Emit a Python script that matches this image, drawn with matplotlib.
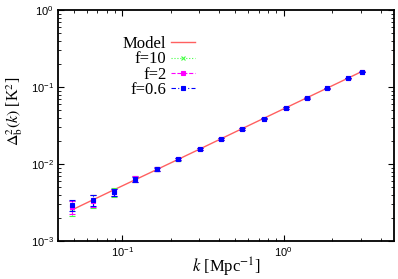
import numpy as np
import matplotlib
matplotlib.use("Agg")
import matplotlib.pyplot as plt
from matplotlib.lines import Line2D

# k [Mpc^-1] of the binned points
k_values = [0.049, 0.066, 0.089, 0.120, 0.164, 0.222, 0.303, 0.408, 0.551,
            0.753, 1.03, 1.39, 1.87, 2.52, 3.07]

# model power spectrum Delta_b^2(k) [K^2]
model_values = [2.55e-3, 3.44e-3, 4.64e-3, 6.24e-3, 8.5e-3, 0.0115, 0.0157, 0.0212,
                0.0287, 0.0392, 0.0536, 0.0723, 0.0972, 0.131, 0.160]

# recovered points for the three f values
f10_values = [2.70e-3, 3.30e-3, 4.30e-3, 6.35e-3, 8.6e-3, 0.0116, 0.0157, 0.0211,
              0.0285, 0.0390, 0.0535, 0.0720, 0.0970, 0.131, 0.157]
f10_errors = [0.6e-3, 0.65e-3, 0.55e-3, 0.55e-3, 0.5e-3, 0.5e-3, 0.55e-3, 0.65e-3,
              0.75e-3, 0.9e-3, 1.1e-3, 1.3e-3, 1.6e-3, 2.0e-3, 2.4e-3]

f2_values = [2.80e-3, 3.35e-3, 4.30e-3, 6.40e-3, 8.6e-3, 0.0116, 0.0157, 0.0211,
             0.0285, 0.0390, 0.0535, 0.0720, 0.0970, 0.131, 0.157]
f2_errors = [0.55e-3, 0.6e-3, 0.5e-3, 0.5e-3, 0.45e-3, 0.45e-3, 0.5e-3, 0.6e-3,
             0.7e-3, 0.8e-3, 1.0e-3, 1.2e-3, 1.5e-3, 1.9e-3, 2.2e-3]

f06_values = [2.94e-3, 3.40e-3, 4.33e-3, 6.38e-3, 8.6e-3, 0.0116, 0.0157, 0.0211,
              0.0285, 0.0390, 0.0535, 0.0720, 0.0970, 0.131, 0.157]
f06_errors = [0.5e-3, 0.55e-3, 0.45e-3, 0.45e-3, 0.4e-3, 0.4e-3, 0.45e-3, 0.55e-3,
              0.65e-3, 0.75e-3, 0.9e-3, 1.1e-3, 1.4e-3, 1.8e-3, 2.1e-3]

plt.rcParams["mathtext.fontset"] = "stix"
plt.rcParams["font.family"] = ["Liberation Serif", "DejaVu Serif"]

fig = plt.figure(figsize=(3.98, 2.79), dpi=100)
ax = fig.add_axes([0.146, 0.136, 0.844, 0.828])

ax.plot(k_values, model_values, color="#ff6060", lw=1.0, zorder=2)

series = [
    (f10_values, f10_errors, "#40ff40", ":", "x", 3.0),
    (f2_values, f2_errors, "#ff00ff", "--", "s", 2.6),
    (f06_values, f06_errors, "#0000ff", (0, (4, 2, 1, 2)), "s", 2.8),
]
handles = [Line2D([], [], color="#ff6060", lw=1.0)]
for vals, errs, col, ls, mk, ms in series:
    eb = ax.errorbar(k_values, vals, yerr=errs, fmt=mk, color=col, ms=ms,
                     mew=0.8, elinewidth=0.8, capsize=2, capthick=0.8, zorder=3)
    eb[2][0].set_linestyle(ls)
    handles.append(Line2D([], [], color=col, ls=ls, lw=0.8, marker=mk, ms=ms, mew=0.8))

ax.set_xscale("log")
ax.set_yscale("log")
ax.set_xlim(0.04, 4.84)
ax.set_ylim(1e-3, 1)

ax.set_xlabel(r"$k$ [Mpc$^{-1}$]", fontsize=12, labelpad=-2)
ax.set_ylabel(r"$\Delta^2_{\rm b}(k)$ [K$^2$]", fontsize=11.5)
ax.yaxis.set_label_coords(-0.098, 0.56)

ax.tick_params(which="both", direction="in", top=True, right=True)
ax.tick_params(which="major", length=4, width=0.8, labelsize=8, pad=3)
ax.tick_params(which="minor", length=2, width=0.6)
for lab in ax.get_xticklabels() + ax.get_yticklabels():
    lab.set_family("Liberation Sans")
for sp in ax.spines.values():
    sp.set_linewidth(1.3)

leg = ax.legend(handles, ["Model", "f=10", "f=2", "f=0.6"],
                loc="upper right", bbox_to_anchor=(0.51, 0.90),
                bbox_transform=fig.transFigure, frameon=False,
                markerfirst=False, fontsize=12, handlelength=1.4,
                handletextpad=0.3, labelspacing=-0.05, borderpad=0)

fig.savefig("out.png", dpi=100)
